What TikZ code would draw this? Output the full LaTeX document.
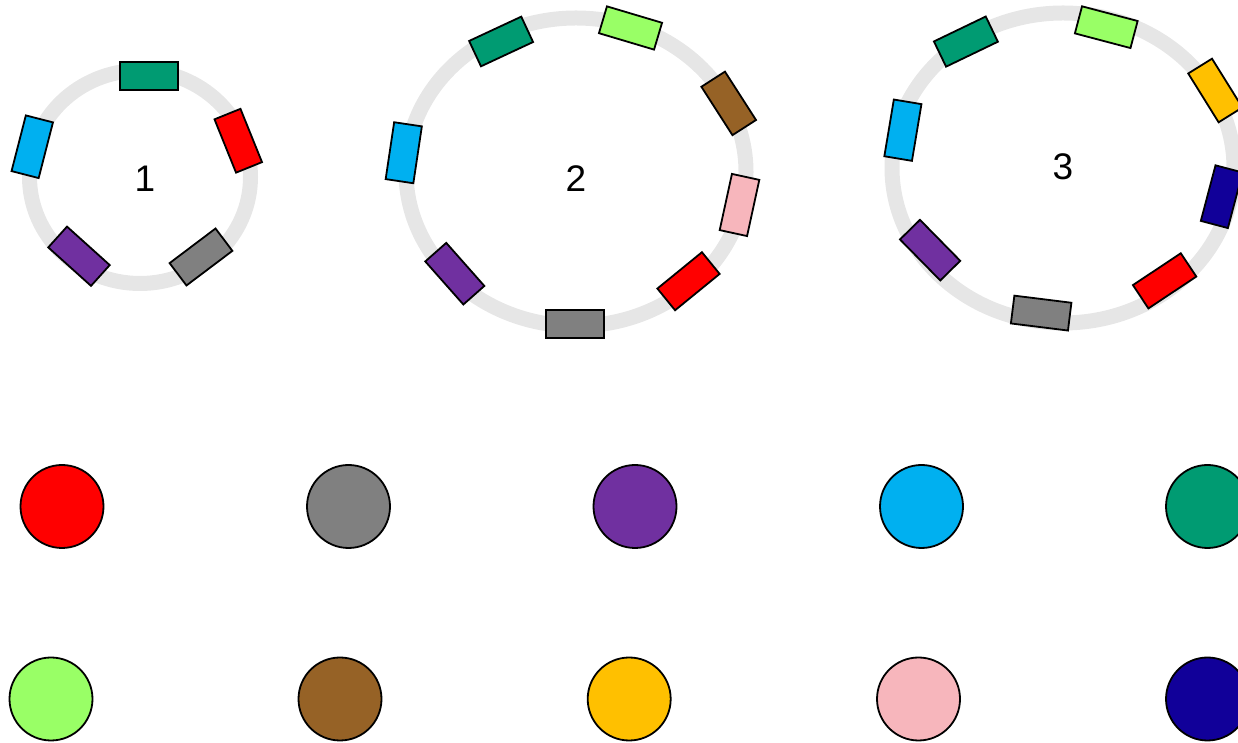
\documentclass[tikz,border=0pt]{standalone}
\usepackage{fontspec}
\setmainfont{Liberation Sans}
\definecolor{cgreen}{RGB}{0,155,114}
\definecolor{cblue}{RGB}{0,176,240}
\definecolor{cpurple}{RGB}{112,48,160}
\definecolor{cred}{RGB}{255,0,0}
\definecolor{cgray}{RGB}{128,128,128}
\definecolor{clgreen}{RGB}{153,255,102}
\definecolor{cbrown}{RGB}{150,98,38}
\definecolor{corange}{RGB}{255,192,0}
\definecolor{cpink}{RGB}{247,182,188}
\definecolor{cdblue}{RGB}{17,0,153}
\definecolor{ringgray}{RGB}{230,230,230}
\tikzset{
  gene/.style={rectangle, draw=black, line width=1.8pt, minimum width=57.5pt, minimum height=28pt, inner sep=0pt, fill=#1},
  dot/.style={circle, draw=black, line width=1.8pt, minimum size=83pt, inner sep=0pt, fill=#1},
  ring/.style={draw=ringgray, line width=15pt},
  lbl/.style={font=\fontsize{37}{40}\selectfont, inner sep=0pt}
}
\begin{document}
\begin{tikzpicture}[x=1pt,y=1pt]
\useasboundingbox (0,0) rectangle (1238,743);
\clip (0,0) rectangle (1238,743);
% rings
\draw[ring] (140,566) ellipse [x radius=110.5, y radius=106.5];
\draw[ring] (576,571) ellipse [x radius=170, y radius=154];
\draw[ring] (1063,575) ellipse [x radius=171, y radius=155];
% labels
\node[lbl] (l1) at (145,564.5) {1};
\node[lbl] (l2) at (576,564.7) {2};
\node[lbl] (l3) at (1063,576) {3};
% ring 1
\node[gene=cgreen, rotate=0] (a1) at (149,667) {};
\node[gene=cred, rotate=-68] (a2) at (238.25,602.25) {};
\node[gene=cblue, rotate=75.6] (a3) at (32.25,596.25) {};
\node[gene=cpurple, rotate=-42] (a4) at (79,486.75) {};
\node[gene=cgray, rotate=37] (a5) at (201,486) {};
% ring 2
\node[gene=cgreen, rotate=25] (b1) at (501.1,701.5) {};
\node[gene=clgreen, rotate=-16.6] (b2) at (630.5,715) {};
\node[gene=cbrown, rotate=-57.3] (b3) at (728.7,639.6) {};
\node[gene=cpink, rotate=77.7] (b4) at (739.5,538) {};
\node[gene=cred, rotate=39.2] (b5) at (688.5,461.75) {};
\node[gene=cgray, rotate=0] (b6) at (575,418.8) {};
\node[gene=cpurple, rotate=-48.5] (b7) at (454.8,469.3) {};
\node[gene=cblue, rotate=81.5] (b8) at (403.75,590.25) {};
% ring 3
\node[gene=cgreen, rotate=25.7] (c1) at (965.9,701.4) {};
\node[gene=clgreen, rotate=-14.8] (c2) at (1106.25,715.8) {};
\node[gene=corange, rotate=-58.1] (c3) at (1215.3,652.5) {};
\node[gene=cdblue, rotate=75.2] (c4) at (1221.7,546.3) {};
\node[gene=cred, rotate=33.6] (c5) at (1164.6,462.15) {};
\node[gene=cgray, rotate=-7.1] (c6) at (1041.15,429.9) {};
\node[gene=cpurple, rotate=-45.5] (c7) at (930.1,492.85) {};
\node[gene=cblue, rotate=80.5] (c8) at (902.9,612.8) {};
% legend circles
\node[dot=cred] (d1) at (62,236.5) {};
\node[dot=cgray] (d2) at (348.5,236.5) {};
\node[dot=cpurple] (d3) at (635,236.5) {};
\node[dot=cblue] (d4) at (921.5,236.5) {};
\node[dot=cgreen] (d5) at (1207.5,236.5) {};
\node[dot=clgreen] (e1) at (51,44) {};
\node[dot=cbrown] (e2) at (340,44) {};
\node[dot=corange] (e3) at (629.2,44) {};
\node[dot=cpink] (e4) at (918.5,44) {};
\node[dot=cdblue] (e5) at (1207.5,44) {};
\end{tikzpicture}
\end{document}
